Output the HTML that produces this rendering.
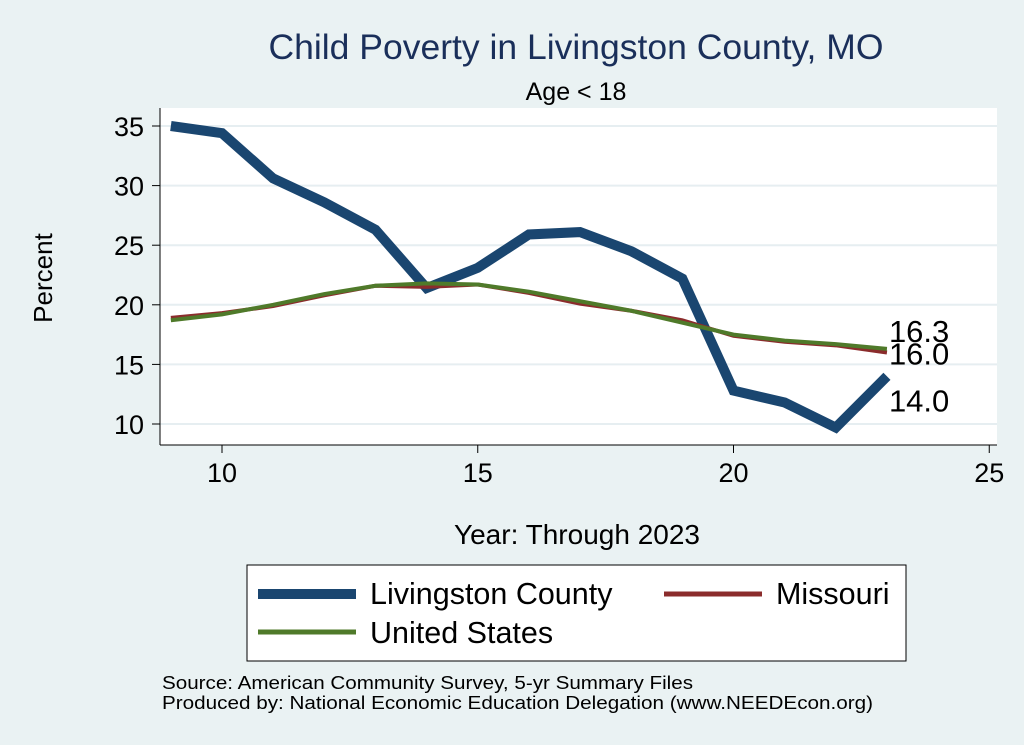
<!DOCTYPE html>
<html><head><meta charset="utf-8"><style>
body{margin:0;background:#eaf2f3;font-family:"Liberation Sans",sans-serif}
svg{display:block}
</style></head><body>
<svg width="1024" height="745">
<rect x="0" y="0" width="1024" height="745" fill="#eaf2f3"/>
<text x="576" y="59" font-size="35.5" fill="#1a2f5a" text-anchor="middle">Child Poverty in Livingston County, MO</text>
<text x="576" y="100" font-size="25" fill="#000" text-anchor="middle">Age &lt; 18</text>
<rect x="160" y="108" width="837" height="337" fill="#ffffff"/>
<g id="grid"></g><g id="axes"></g><g id="series"></g>
<text x="52" y="278" font-size="26" text-anchor="middle" transform="rotate(-90 52 278)">Percent</text>
<text x="577" y="544" font-size="28" text-anchor="middle">Year: Through 2023</text>
<g>
<rect x="247" y="565" width="659" height="96" fill="#fff" stroke="#000" stroke-width="1"/>
<line x1="258" y1="594" x2="356" y2="594" stroke="#1a4670" stroke-width="10"/>
<text x="370" y="604" font-size="30.5">Livingston County</text>
<line x1="664" y1="594" x2="762" y2="594" stroke="#8b2c2c" stroke-width="5"/>
<text x="776" y="604" font-size="30.5">Missouri</text>
<line x1="258" y1="632" x2="356" y2="632" stroke="#4f7a2a" stroke-width="5"/>
<text x="370" y="643" font-size="30.5">United States</text>
</g>
<text x="162" y="689" font-size="18" textLength="531" lengthAdjust="spacingAndGlyphs">Source: American Community Survey, 5-yr Summary Files</text>
<text x="162" y="709" font-size="18" textLength="711" lengthAdjust="spacingAndGlyphs">Produced by: National Economic Education Delegation (www.NEEDEcon.org)</text>
</svg>
<script>
const years=[9,10,11,12,13,14,15,16,17,18,19,20,21,22,23];
const livingston=[35.0,34.4,30.6,28.6,26.3,21.4,23.1,25.9,26.1,24.5,22.2,12.8,11.8,9.7,14.0];
const missouri=[18.9,19.3,19.9,20.8,21.6,21.5,21.7,21.0,20.1,19.5,18.7,17.4,16.9,16.6,16.0];
const us=[18.7,19.2,20.0,20.9,21.6,21.8,21.7,21.1,20.3,19.5,18.5,17.5,17.0,16.7,16.3];
const xTicks=[10,15,20,25];
const yTicks=[10,15,20,25,30,35];
const NS="http://www.w3.org/2000/svg";
const X=v=>222+(v-10)*51.15;
const Y=v=>424-(v-10)*11.92;
function mk(t,a,p){const e=document.createElementNS(NS,t);for(const k in a)e.setAttribute(k,a[k]);p.appendChild(e);return e;}
const grid=document.getElementById('grid'),axes=document.getElementById('axes'),ser=document.getElementById('series');
yTicks.forEach(v=>{
 const g=mk('line',{x1:160,x2:997,y1:Y(v),y2:Y(v),stroke:'#e6eef1','stroke-width':2},grid);
 
 
 const t=mk('line',{x1:152,x2:160,y1:Y(v),y2:Y(v),stroke:'#000','stroke-width':1},axes);
 
 
 const l=mk('text',{x:144,y:Y(v)+10,'font-size':27,'text-anchor':'end'},axes);l.textContent=v;
 
 
});
xTicks.forEach(v=>{
 const t=mk('line',{x1:X(v),x2:X(v),y1:445,y2:453,stroke:'#000','stroke-width':1},axes);
 
 
 const l=mk('text',{x:X(v),y:482,'font-size':27,'text-anchor':'middle'},axes);l.textContent=v;
 
 
});
const ya=mk('line',{x1:160,x2:160,y1:108,y2:445,stroke:'#000'},axes);


const xa=mk('line',{x1:160,x2:997,y1:445,y2:445,stroke:'#000'},axes);


function line(vals,col,w,name){
 const p=mk('polyline',{points:vals.map((v,i)=>X(years[i])+','+Y(v)).join(' '),fill:'none',stroke:col,'stroke-width':w,'stroke-linejoin':'miter'},ser);
 
 
}
line(livingston,'#1a4670',10,'line-livingston');
line(missouri,'#8b2c2c',4,'line-missouri');
line(us,'#4f7a2a',4,'line-us');
const n=years.length-1;
[[us[n],-7,'label-us-last'],[missouri[n],12,'label-missouri-last'],[livingston[n],35,'label-livingston-last']].forEach(([v,dy,nm])=>{
 const t=mk('text',{x:X(years[n])+2,y:Y(v)+dy,'font-size':31},ser);t.textContent=v.toFixed(1);
 
 
});
</script>
</body></html>
